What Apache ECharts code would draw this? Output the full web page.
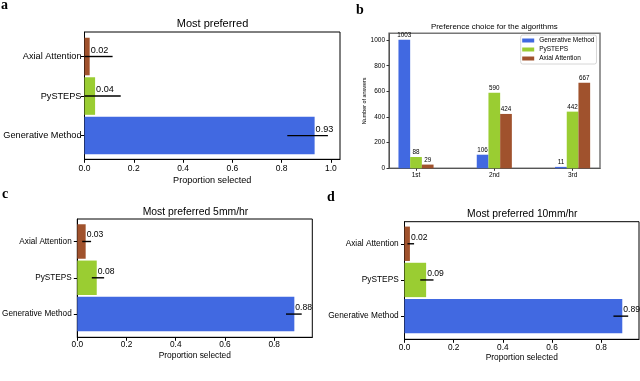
<!DOCTYPE html>
<html>
<head>
<meta charset="utf-8">
<script src="https://cdn.jsdelivr.net/npm/echarts@6/dist/echarts.min.js"></script>
<style>
html, body { margin: 0; padding: 0; background: #fff; }
#chart { width: 640px; height: 381px; }
</style>
</head>
<body>
<div id="chart"></div>
<script>
// categories, bottom to top on the horizontal panels
const methods = ["Generative Method", "PySTEPS", "Axial Attention"];
const colors = ["#4169E1", "#9ACD32", "#A0522D"];
const propTicks = [0, 0.2, 0.4, 0.6, 0.8, 1.0];

// a: most preferred
const allValues = [0.934, 0.043, 0.021];
const allErrLow = [0.823, -0.067, -0.074];
const allErrHigh = [0.988, 0.147, 0.114];
// c: most preferred 5mm/hr
const rain5Values = [0.882, 0.079, 0.034];
const rain5ErrLow = [0.848, 0.059, 0.02];
const rain5ErrHigh = [0.912, 0.109, 0.056];
// d: most preferred 10mm/hr
const rain10Values = [0.886, 0.088, 0.022];
const rain10ErrLow = [0.85, 0.064, 0.012];
const rain10ErrHigh = [0.91, 0.118, 0.039];

// b: preference choice counts
const ranks = ["1st", "2nd", "3rd"];
const countGenerative = [1003, 106, 11];
const countPysteps = [88, 590, 442];
const countAxial = [29, 424, 667];
const countTicks = [0, 200, 400, 600, 800, 1000];

const FONT = "Liberation Sans";

function rows(values, lo, hi) {
    return values.map(function (v, i) {
        return [v, i, lo[i], hi[i]];
    });
}

// horizontal bar + error line + value text
function makeRender(fontSize) {
    return function (params, api) {
        const v = api.value(0);
        const i = api.value(1);
        const p0 = api.coord([0, i]);
        const p1 = api.coord([v, i]);
        const h = api.size([0, 0.95])[1];
        const cs = params.coordSys;
        const lo = api.coord([api.value(2), i])[0];
        const hi = api.coord([api.value(3), i])[0];
        const xl = Math.max(lo, cs.x);
        const xh = Math.min(hi, cs.x + cs.width);
        return {
            type: "group",
            children: [
                {
                    type: "rect",
                    shape: { x: p0[0], y: p0[1] - h / 2, width: p1[0] - p0[0], height: h },
                    style: { fill: colors[i] },
                },
                {
                    type: "line",
                    shape: { x1: xl, y1: p0[1], x2: xh, y2: p0[1] },
                    style: { stroke: "#000", lineWidth: 1.4 },
                },
                {
                    type: "text",
                    style: {
                        text: v.toFixed(2),
                        x: p1[0] + 1,
                        y: p0[1] - 2,
                        align: "left",
                        verticalAlign: "bottom",
                        textAlign: "left",
                        textVerticalAlign: "bottom",
                        fill: "#000",
                        fontSize: fontSize,
                        fontFamily: FONT,
                    },
                },
            ],
        };
    };
}

function propAxis(grid, max, fs, nfs, margin, nameGap) {
    return {
        gridIndex: grid,
        type: "value",
        min: 0,
        max: max,
        splitLine: { show: false },
        axisLine: { show: true, onZero: false, lineStyle: { color: "#000", width: 1 } },
        axisTick: { show: true, customValues: propTicks, length: 3.5, lineStyle: { color: "#000" } },
        axisLabel: {
            customValues: propTicks,
            formatter: function (v) { return v.toFixed(1); },
            color: "#000", fontSize: fs, fontFamily: FONT, margin: margin,
        },
        name: "Proportion selected",
        nameLocation: "middle",
        nameGap: nameGap,
        nameTextStyle: { color: "#000", fontSize: nfs, fontFamily: FONT },
    };
}

function methodAxis(grid, min, max, fs, margin) {
    return {
        gridIndex: grid,
        type: "value",
        min: min,
        max: max,
        splitLine: { show: false },
        axisLine: { show: true, onZero: false, lineStyle: { color: "#000", width: 1 } },
        axisTick: { show: true, customValues: [0, 1, 2], length: 3.5, lineStyle: { color: "#000" } },
        axisLabel: {
            customValues: [0, 1, 2],
            formatter: function (v) { return methods[Math.round(v)]; },
            color: "#000", fontSize: fs, fontFamily: FONT, margin: margin,
        },
    };
}

function label(text, x, y, size, extra) {
    return {
        type: "text",
        x: x,
        y: y,
        style: Object.assign({
            text: text,
            fill: "#000",
            fontSize: size,
            fontFamily: FONT,
            textAlign: "center",
            textVerticalAlign: "middle",
            align: "center",
            verticalAlign: "middle",
        }, extra || {}),
    };
}

function letter(text, x, y) {
    return label(text, x, y, 14, {
        fontFamily: "Liberation Serif", fontWeight: "bold",
        textAlign: "left", align: "left",
    });
}

const chart = echarts.init(document.getElementById("chart"));

const countSeries = [countGenerative, countPysteps, countAxial].map(function (arr, k) {
    return {
        name: methods[k],
        type: "bar",
        xAxisIndex: 1,
        yAxisIndex: 1,
        barWidth: 11.7,
        barGap: "0%",
        itemStyle: { color: colors[k] },
        label: {
            show: true,
            position: "top",
            distance: 1.5,
            color: "#000",
            fontSize: 6.3,
            fontFamily: FONT,
            formatter: function (p) { return p.value[1]; },
        },
        data: arr.map(function (v, i) { return [i, v]; }),
    };
});

const gridBase = { show: true, borderColor: "#000", borderWidth: 1, outerBoundsMode: "none", containLabel: false };

const option = {
    animation: false,
    grid: [
        Object.assign({}, gridBase, { left: 84.5, top: 32, width: 255.5, height: 127.3 }),
        Object.assign({}, gridBase, { left: 389, top: 33.3, width: 211, height: 135, borderColor: "#777", borderWidth: 1.5 }),
        Object.assign({}, gridBase, { left: 77.3, top: 219, width: 235, height: 118.3 }),
        Object.assign({}, gridBase, { left: 404.5, top: 221.7, width: 234.5, height: 117.6 }),
    ],
    legend: {
        data: methods,
        orient: "vertical",
        left: 520.7,
        top: 35,
        padding: [2, 2, 2, 1.5],
        itemWidth: 12,
        itemHeight: 4,
        itemGap: 2,
        icon: "rect",
        borderColor: "#ccc",
        borderWidth: 0.8,
        borderRadius: 2,
        textStyle: { color: "#000", fontSize: 6.5, fontFamily: FONT, lineHeight: 6.5 },
    },
    xAxis: [
        propAxis(0, 1.037, 8.5, 9.1, 5, 17),
        {
            gridIndex: 1,
            type: "value",
            min: -0.345,
            max: 2.35,
            splitLine: { show: false },
            axisLine: { show: true, onZero: false, lineStyle: { color: "#555", width: 1 } },
            axisTick: { show: true, customValues: [0, 1, 2], length: 2.5, lineStyle: { color: "#333" } },
            axisLabel: {
                customValues: [0, 1, 2],
                formatter: function (v) { return ranks[Math.round(v)]; },
                color: "#000", fontSize: 6.5, fontFamily: FONT, margin: 3.5,
            },
        },
        propAxis(2, 0.955, 8.3, 8.4, 3.5, 14.5),
        propAxis(3, 0.954, 8.3, 8.4, 4.5, 14.3),
    ],
    yAxis: [
        methodAxis(0, -0.6, 2.62, 9.2, 3),
        {
            gridIndex: 1,
            type: "value",
            min: 0,
            max: 1053,
            splitLine: { show: false },
            axisLine: { show: true, onZero: false, lineStyle: { color: "#555", width: 1 } },
            axisTick: { show: true, customValues: countTicks, length: 2.5, lineStyle: { color: "#333" } },
            axisLabel: {
                customValues: countTicks,
                formatter: function (v) { return String(v); },
                color: "#000", fontSize: 6.5, fontFamily: FONT, margin: 4,
            },
            name: "Number of answers",
            nameLocation: "middle",
            nameGap: 22,
            nameTextStyle: { color: "#000", fontSize: 5.4, fontFamily: FONT },
        },
        methodAxis(2, -0.64, 2.62, 8.2, 5.6),
        methodAxis(3, -0.64, 2.61, 8.3, 5.8),
    ],
    series: [
        {
            type: "custom",
            xAxisIndex: 0,
            yAxisIndex: 0,
            encode: { x: 0, y: 1 },
            renderItem: makeRender(9.1),
            data: rows(allValues, allErrLow, allErrHigh),
        },
        {
            type: "custom",
            xAxisIndex: 2,
            yAxisIndex: 2,
            encode: { x: 0, y: 1 },
            renderItem: makeRender(8.6),
            data: rows(rain5Values, rain5ErrLow, rain5ErrHigh),
        },
        {
            type: "custom",
            xAxisIndex: 3,
            yAxisIndex: 3,
            encode: { x: 0, y: 1 },
            renderItem: makeRender(8.6),
            data: rows(rain10Values, rain10ErrLow, rain10ErrHigh),
        },
    ].concat(countSeries),
    graphic: [
        letter("a", 1, 5),
        letter("b", 356, 10.8),
        letter("c", 2, 194),
        letter("d", 327, 197.5),
        label("Most preferred", 212.5, 24, 11),
        label("Preference choice for the algorithms", 494.3, 26.7, 7.9),
        label("Most preferred 5mm/hr", 195.5, 211.7, 10.4),
        label("Most preferred 10mm/hr", 522.3, 214, 10.3),
    ],
};

chart.setOption(option);
window.addEventListener("resize", function () {
    chart.resize();
});
</script>
</body>
</html>
